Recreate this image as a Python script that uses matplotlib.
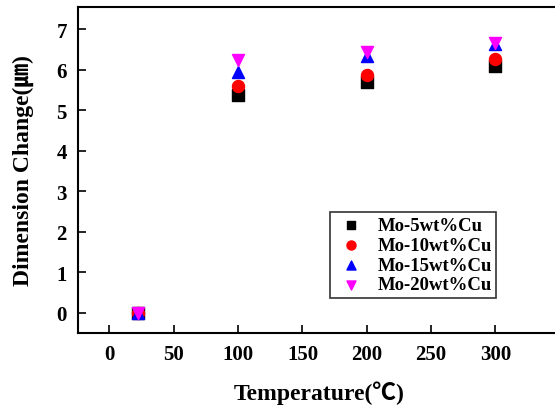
import matplotlib.pyplot as plt

# temperature points (deg C)
temps = [22, 100, 200, 300]

# dimension change for each alloy
mo5 = [0.0, 5.38, 5.69, 6.09]
mo10 = [0.0, 5.59, 5.87, 6.27]
mo15 = [0.0, 5.95, 6.33, 6.64]
mo20 = [0.0, 6.23, 6.43, 6.66]

labels = ['Mo-5wt%Cu', 'Mo-10wt%Cu', 'Mo-15wt%Cu', 'Mo-20wt%Cu']
xticks = [0, 50, 100, 150, 200, 250, 300]
yticks = [0, 1, 2, 3, 4, 5, 6, 7]

plt.rcParams['font.family'] = ['Liberation Serif', 'Noto Sans CJK KR', 'DejaVu Sans']
plt.rcParams['font.weight'] = 'bold'

fig = plt.figure(figsize=(5.55, 4.10), dpi=100)
ax = fig.add_axes([0.1405, 0.1854, 0.868, 0.795])

ax.scatter(temps, mo5, marker='s', s=70, color='black', label=labels[0], zorder=3)
ax.scatter(temps, mo10, marker='o', s=75, color='red', label=labels[1], zorder=4)
ax.scatter(temps, mo15, marker='^', s=75, color='blue', label=labels[2], zorder=5)
ax.scatter(temps, mo20, marker='v', s=75, color='magenta', label=labels[3], zorder=6)

ax.set_xlim(-24.5, 350)
ax.set_ylim(-0.5, 7.55)
ax.set_xticks(xticks)
ax.set_yticks(yticks)
ax.tick_params(direction='in', length=6, width=1.2, labelsize=15, pad=8)
for lab in ax.get_xticklabels() + ax.get_yticklabels():
    lab.set_fontweight('bold')
for sp in ax.spines.values():
    sp.set_linewidth(1.5)

ax.set_xlabel('Temperature(℃)', fontsize=17, fontweight='bold', labelpad=12)
ax.set_ylabel('Dimension Change(㎛)', fontsize=17, fontweight='bold', labelpad=16)

leg = ax.legend(loc='lower right', bbox_to_anchor=(0.888, 0.078), fontsize=13.5,
                frameon=True, fancybox=False, edgecolor='black', handletextpad=0.5,
                labelspacing=0.15, borderpad=0.25, markerscale=0.75, handlelength=1.8)
leg.get_frame().set_linewidth(1.2)

fig.savefig('out.png', dpi=100)
